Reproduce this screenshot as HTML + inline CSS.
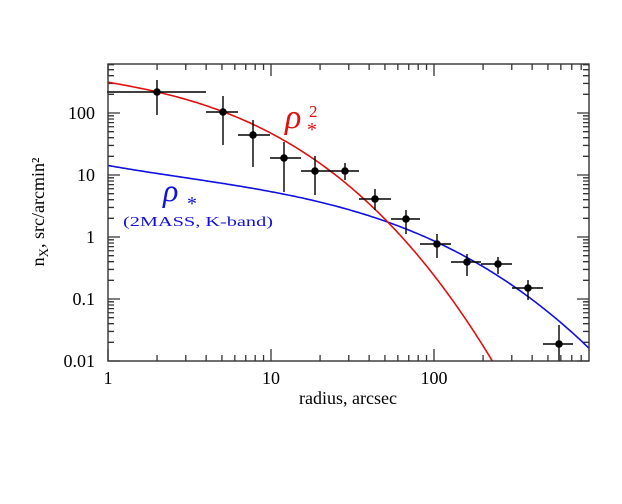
<!DOCTYPE html>
<html><head><style>
html,body{margin:0;padding:0;background:#fff;}
svg{display:block;}
text{font-family:"Liberation Serif",serif;}
</style></head><body>
<svg id="s" width="622" height="504" xmlns="http://www.w3.org/2000/svg">
</svg>
<script>
var s=document.getElementById('s');
var L=108,R=589,T=64,B=361,DX=163,DY=62;
function X(r){return L+DX*Math.log10(r);}
function Y(v){return B-DY*(Math.log10(v)+2);}
function fit(pts,n){var m=n+1,A=[],b=[];for(var i=0;i<m;i++){A.push(new Array(m).fill(0));b.push(0);}
pts.forEach(function(p){var u=(p[0]-108)/481;for(var i=0;i<m;i++){b[i]+=p[1]*Math.pow(u,i);for(var j=0;j<m;j++)A[i][j]+=Math.pow(u,i+j);}});
for(var i=0;i<m;i++){for(var k=i+1;k<m;k++){var f=A[k][i]/A[i][i];for(var j=i;j<m;j++)A[k][j]-=f*A[i][j];b[k]-=f*b[i];}}
var c=new Array(m);for(var i=m-1;i>=0;i--){var sum=b[i];for(var j=i+1;j<m;j++)sum-=A[i][j]*c[j];c[i]=sum/A[i][i];}
return function(x){var u=(x-108)/481,y=0;for(var i=0;i<m;i++)y+=c[i]*Math.pow(u,i);return y;};}
var fb=fit([[108,166],[188,177],[268,190],[300,200],[360,212],[390,222],[437,243],[468,261],[500,278],[529,292],[560,322],[589,350]],3);
var fr=fit([[108,82],[157,92],[223,112],[277,137],[327,170],[367,200],[390,222],[410,243],[440,287],[467,327],[495,361]],3);
var h='';
h+='<defs><clipPath id="c"><rect x="'+L+'" y="'+T+'" width="'+(R-L)+'" height="'+(B-T)+'"/></clipPath></defs>';
var t='';
for(var d=0;d<3;d++){for(var k=1;k<10;k++){var x=X(k*Math.pow(10,d));if(x>R)continue;var len=k==1?12:6;
t+='M'+x+' '+B+'v'+(-len)+'M'+x+' '+T+'v'+len;}}
for(var d=-2;d<3;d++){for(var k=1;k<10;k++){var y=Y(k*Math.pow(10,d));if(y<T)continue;var len=k==1?12:6;
t+='M'+L+' '+y+'h'+len+'M'+R+' '+y+'h'+(-len);}}
h+='<path d="'+t+'" stroke="#333" stroke-width="1.3" fill="none"/>';
var pb='',pr='';
for(var x=108;x<=590;x+=2){pb+=(x==108?'M':'L')+x+' '+fb(x).toFixed(1);}
for(var x=108;x<=500;x+=2){pr+=(x==108?'M':'L')+x+' '+fr(x).toFixed(1);}
h+='<g clip-path="url(#c)"><path d="'+pb+'" stroke="#1010e0" stroke-width="1.6" fill="none"/><path d="'+pr+'" stroke="#e01010" stroke-width="1.6" fill="none"/></g>';
var D=[[157,92,107,206,80,115],[223,112,206,238,96,145],[253,135,238,270,120,167],[284,158,270,301,142,192],[315,171,301,331,156,195],[345,171,331,359,163,180],[375,199,359,391,189,210],[406,219,391,420,210,234],[437,244,420,451,234,258],[467,262,451,481,254,276],[498,264,481,512,257,274],[528,288,512,543,280,300],[559,344,543,573,325,361]];
var e='';D.forEach(function(p){e+='M'+p[2]+' '+p[1]+'H'+p[3]+'M'+p[0]+' '+p[4]+'V'+p[5];h+='<circle cx="'+p[0]+'" cy="'+p[1]+'" r="3.8" fill="#000"/>';});
h+='<path d="'+e+'" stroke="#000" stroke-width="1.4" fill="none"/>';
h+='<rect x="'+L+'" y="'+T+'" width="'+(R-L)+'" height="'+(B-T)+'" fill="none" stroke="#333" stroke-width="1.4"/>';
var yl=[['100',100],['10',10],['1',1],['0.1',0.1],['0.01',0.01]];
yl.forEach(function(a){h+='<text x="95" y="'+(Y(a[1])+6)+'" font-size="18" text-anchor="end">'+a[0]+'</text>';});
[['1',1],['10',10],['100',100]].forEach(function(a){h+='<text x="'+X(a[1])+'" y="384" font-size="18" text-anchor="middle">'+a[0]+'</text>';});
h+='<text x="348" y="404" font-size="18" text-anchor="middle">radius, arcsec</text>';
h+='<text transform="translate(44,212) rotate(-90)" font-size="18" text-anchor="middle">n<tspan font-size="13" dy="4">X</tspan><tspan dy="-4">, src/arcmin²</tspan></text>';
h+='<text x="285" y="128" font-size="34" font-style="italic" fill="#e01010">ρ</text><text x="307" y="136" font-size="20" fill="#e01010">*</text><text x="309" y="117" font-size="17" fill="#e01010">2</text>';
h+='<text x="163" y="201" font-size="32" font-style="italic" fill="#1010e0">ρ</text><text x="187" y="210" font-size="20" fill="#1010e0">*</text>';
h+='<text x="123" y="226" font-size="14" fill="#1010e0" textLength="150" lengthAdjust="spacingAndGlyphs">(2MASS, K-band)</text>';
s.innerHTML=h;
</script>
</body></html>
